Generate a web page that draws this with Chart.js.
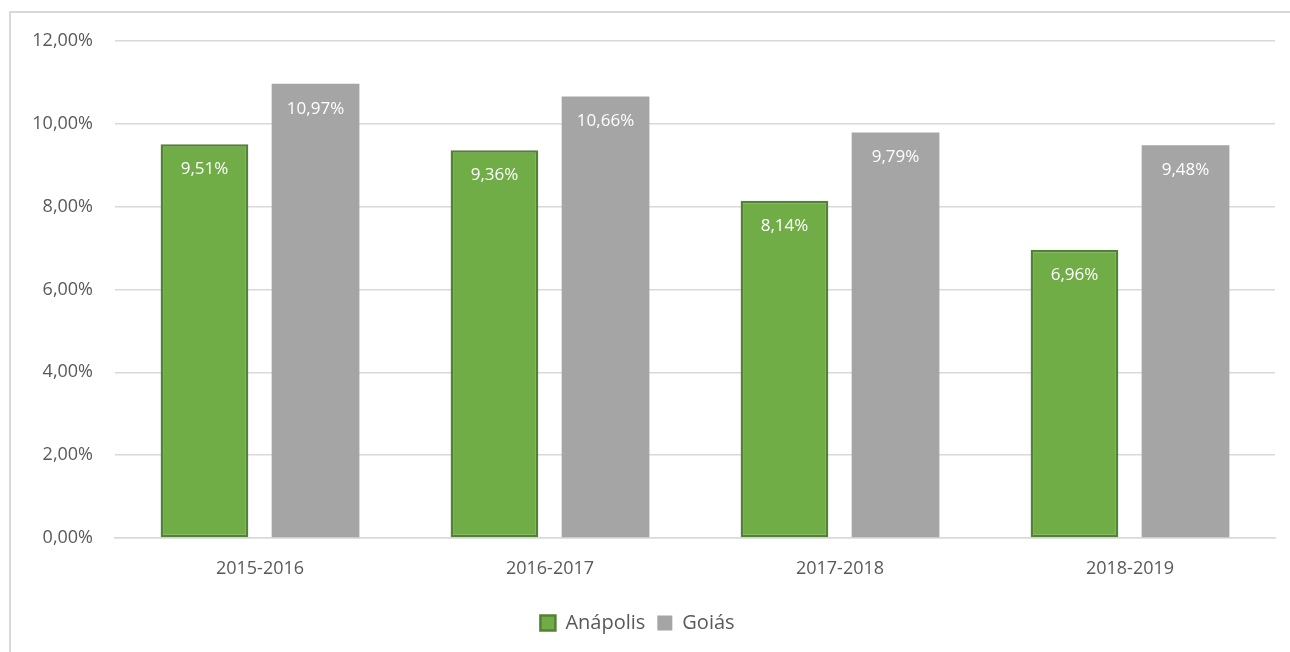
<!DOCTYPE html>
<html>
<head>
<meta charset="utf-8">
<script src="https://cdn.jsdelivr.net/npm/chart.js@4"></script>
<style>
  html, body { margin: 0; padding: 0; background: #fff; }
  #wrap { width: 1290px; height: 652px; position: relative; }
</style>
</head>
<body>
<div id="wrap"><canvas id="chart"></canvas></div>
<script>
// Values
const categories = ["2015-2016", "2016-2017", "2017-2018", "2018-2019"];
const anapolis = [9.51, 9.36, 8.14, 6.96];
const goias = [10.97, 10.66, 9.79, 9.48];
const yTicks = [0, 2, 4, 6, 8, 10, 12];

function fmtPct(v, digits) {
    return v.toFixed(digits).replace(".", ",") + "%";
}

// Frame round the whole figure
const framePlugin = {
    id: "frame",
    beforeDraw(chart) {
        const ctx = chart.ctx;
        ctx.save();
        ctx.strokeStyle = "#d9d9d9";
        ctx.lineWidth = 2;
        ctx.strokeRect(10, 12, 1400, 800);
        ctx.restore();
    }
};

// White value labels inside the top of each bar
const valueLabels = {
    id: "valueLabels",
    afterDatasetsDraw(chart) {
        const ctx = chart.ctx;
        ctx.save();
        ctx.fillStyle = "#ffffff";
        ctx.font = "17px 'Open Sans'";
        ctx.textAlign = "center";
        ctx.textBaseline = "middle";
        chart.data.datasets.forEach((ds, i) => {
            chart.getDatasetMeta(i).data.forEach((bar, j) => {
                ctx.fillText(fmtPct(ds.data[j], 2), bar.x, bar.y + 25);
            });
        });
        ctx.restore();
    }
};

const ctx = document.getElementById("chart").getContext("2d");
new Chart(ctx, {
    type: "bar",
    data: {
        labels: categories,
        datasets: [{
            label: "Anápolis",
            data: anapolis,
            backgroundColor: "#70ad47",
            borderColor: "#548235",
            borderWidth: 2.5,
            borderSkipped: false,
            categoryPercentage: 0.766,
            barPercentage: 0.79
        }, {
            label: "Goiás",
            data: goias,
            backgroundColor: "#a5a5a5",
            borderWidth: 0,
            categoryPercentage: 0.766,
            barPercentage: 0.79
        }]
    },
    options: {
        responsive: true,
        maintainAspectRatio: false,
        animation: false,
        layout: { padding: { top: 41, right: 15, left: 0, bottom: 9 } },
        plugins: {
            legend: {
                display: true,
                position: "bottom",
                labels: {
                    color: "#595959",
                    font: { family: "Open Sans", size: 20 },
                    boxWidth: 15,
                    boxHeight: 15,
                    padding: 12
                }
            },
            tooltip: { enabled: false }
        },
        scales: {
            x: {
                grid: { display: false, drawTicks: false },
                border: { color: "#d9d9d9", width: 1.5 },
                ticks: {
                    color: "#595959",
                    font: { family: "Open Sans", size: 18 },
                    padding: 20
                },
                afterFit(axis) { axis.height = 63; }
            },
            y: {
                min: 0,
                max: 12,
                afterBuildTicks(axis) {
                    axis.ticks = yTicks.map(v => ({ value: v }));
                },
                grid: { color: "#d9d9d9", lineWidth: 1.5, drawTicks: false },
                border: { display: false },
                ticks: {
                    color: "#595959",
                    font: { family: "Open Sans", size: 18 },
                    padding: 22,
                    callback: v => fmtPct(v, 2)
                },
                afterFit(axis) { axis.width = 115; }
            }
        }
    },
    plugins: [framePlugin, valueLabels]
});
</script>
</body>
</html>
